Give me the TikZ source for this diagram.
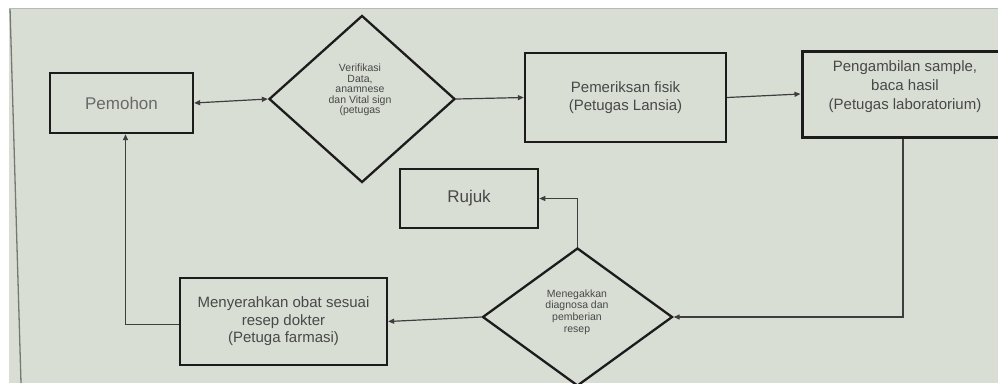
\documentclass[tikz,border=0pt]{standalone}
\usepackage{fontspec}
\setmainfont{Liberation Sans}
\usetikzlibrary{shapes.geometric,arrows.meta}
\definecolor{bg}{RGB}{217,222,213}
\definecolor{ink}{RGB}{28,28,28}
\definecolor{txt}{RGB}{72,72,72}
\definecolor{ltxt}{RGB}{105,105,105}
\definecolor{edge}{RGB}{115,120,115}
\begin{document}
\begin{tikzpicture}[x=1pt,y=-1pt,
  box/.style={draw=ink,line width=2.3pt,rectangle,inner sep=0pt,text=txt,align=center},
  dia/.style={draw=ink,line width=2.3pt,diamond,inner sep=0pt,text=txt,align=center},
  lbl/.style={text=txt,align=center,inner sep=0pt},
  big/.style={font=\fontsize{17}{20}\selectfont},
  mid/.style={font=\fontsize{15}{18.5}\selectfont},
  small/.style={font=\fontsize{10.5}{10.4}\selectfont},
  small2/.style={font=\fontsize{10.5}{11.6}\selectfont},
  conn/.style={draw=ink!85,line width=1.2pt},
  arr/.style={conn,-{Triangle[length=6pt,width=5pt]}},
  darr/.style={conn,{Triangle[length=6pt,width=5pt]}-{Triangle[length=6pt,width=5pt]}},
]
\useasboundingbox (0,0) rectangle (998,383);
\clip (0,0) rectangle (998,383);
\fill[white] (0,0) rectangle (998,383);
\fill[bg] (9,8) rectangle (998,383);
\draw[edge,line width=1.3pt] (10,8) -- (21,383);
\draw[gray!55,line width=1pt] (9,8.5) -- (998,8.5);

% nodes
\node[box,big,text=ltxt,minimum width=143pt,minimum height=60pt] (pem) at (121.5,103) {Pemohon};
\node[dia,minimum width=186pt,minimum height=167pt] (ver) at (362,99) {};
\node[lbl,small] (vert) at (360,90) {Verifikasi\\Data,\\anamnese\\dan Vital sign\\(petugas};
\node[box,mid,minimum width=201pt,minimum height=89pt] (pf) at (625.5,97.5) {Pemeriksan fisik\\(Petugas Lansia)};
\node[box,line width=3pt,minimum width=202pt,minimum height=86pt] (peng) at (903,94) {};
\node[lbl,mid,font=\fontsize{15}{19}\selectfont] (pengt) at (905,87) {Pengambilan sample,\\baca hasil\\(Petugas laboratorium)};
\node[box,big,line width=2.6pt,minimum width=138pt,minimum height=59pt] (rujuk) at (469,198.5) {Rujuk};
\node[dia,minimum width=190pt,minimum height=138pt] (diag) at (577.5,317) {};
\node[lbl,small2] (diagt) at (577,312) {Menegakkan\\diagnosa dan\\pemberian\\resep};
\node[box,font=\fontsize{15}{17.5}\selectfont,minimum width=207pt,minimum height=87pt] (obat) at (283.5,321.5) {Menyerahkan obat sesuai\\resep dokter\\(Petuga farmasi)};

\coordinate (pemin) at ([xshift=4pt]pem.south);
\coordinate (obatout) at ([yshift=-3pt]obat.west);

% connectors
\draw[darr] (pem.east) -- (ver.west);
\draw[arr] (ver.east) -- (pf.west);
\draw[arr] (pf.east) -- (peng.west);
\draw[arr] (peng.south) |- (diag.east);
\draw[arr] (diag.north) |- (rujuk.east);
\draw[arr] (diag.west) -- (obat.east);
\draw[arr] (obatout) -| (pemin);
\end{tikzpicture}
\end{document}
